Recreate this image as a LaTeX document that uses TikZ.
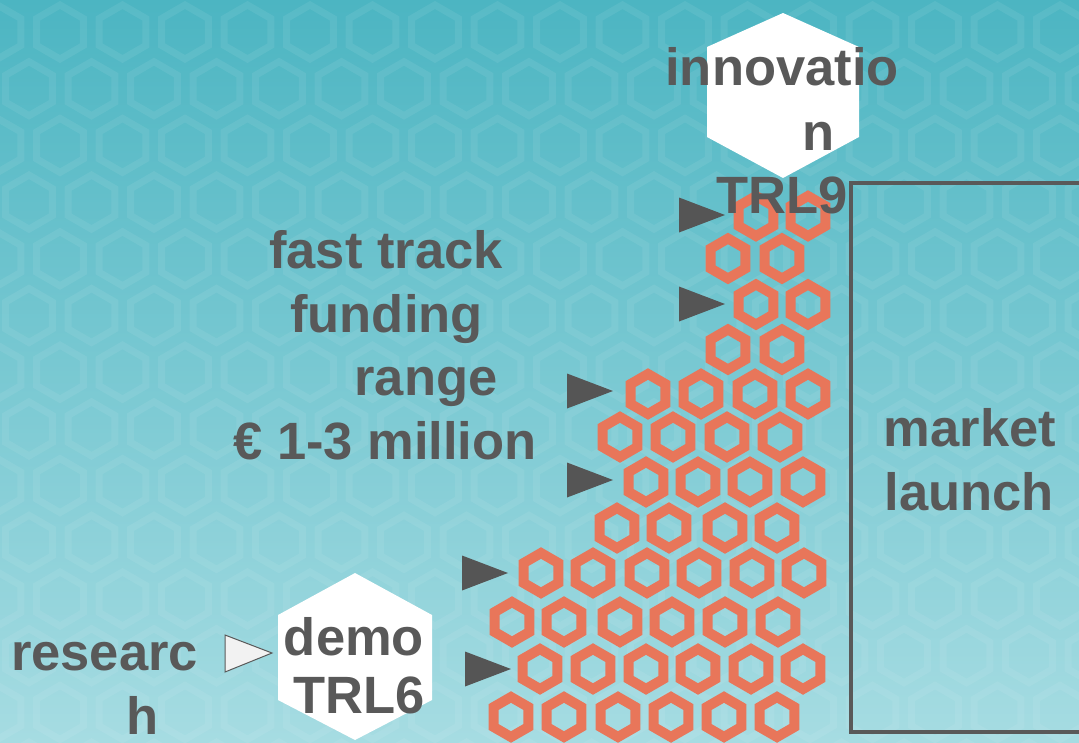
\documentclass[tikz,border=0pt]{standalone}
\usepackage{fontspec}
\setmainfont{Liberation Sans}
\definecolor{bgtop}{HTML}{4CB5C2}
\definecolor{bgbot}{HTML}{A6DCE2}
\definecolor{ringc}{HTML}{E8765A}
\definecolor{ink}{HTML}{595959}
\definecolor{arrowc}{HTML}{555555}
\definecolor{lightarrow}{HTML}{F2F2F2}
\tikzset{
  bghex/.style={draw=white, draw opacity=0.07, line width=7pt},
  ring/.style={draw=ringc, line width=10pt, line join=miter},
  marker/.style={fill=arrowc},
  openmarker/.style={fill=lightarrow, draw=ink, line width=1pt, line join=miter},
  whitehex/.style={fill=white},
  frame/.style={draw=ink, line width=3.5pt},
  lbl/.style={text=ink, font=\bfseries\fontsize{52.5}{64}\selectfont, inner sep=0pt, anchor=base}
}
\begin{document}
\begin{tikzpicture}[x=1pt,y=-1pt]
\useasboundingbox (0,0) rectangle (1079,742);
% background
\shade[top color=bgtop, bottom color=bgbot] (0,0) rectangle (1079,742);
\begin{scope}
\clip (0,0) rectangle (1079,742);
\foreach \r in {0,2,...,14}{
  \foreach \k in {0,...,18}{
    \pgfmathsetmacro\xx{-2.5+62.5*\k}
    \pgfmathsetmacro\yy{32+56.7*\r}
    \draw[bghex] (\xx,\yy) ++(0,-27) -- ++(23.38,13.5) -- ++(0,27) -- ++(-23.38,13.5) -- ++(-23.38,-13.5) -- ++(0,-27) -- cycle;
  }
}
\foreach \r in {1,3,...,13}{
  \foreach \k in {-1,...,17}{
    \pgfmathsetmacro\xx{29+62.5*\k}
    \pgfmathsetmacro\yy{32+56.7*\r}
    \draw[bghex] (\xx,\yy) ++(0,-27) -- ++(23.38,13.5) -- ++(0,27) -- ++(-23.38,13.5) -- ++(-23.38,-13.5) -- ++(0,-27) -- cycle;
  }
}
\end{scope}
% frame of market launch
\draw[frame] (1090,183) -- (851,183) -- (851,732) -- (1090,732);
% orange hexagon rings
\foreach \x/\y in {756/216,808/216,
  728/258.5,782/258.5,
  756/304.5,808/304.5,
  728/349.5,782/349.5,
  648/394,701/394,755/394,808/394,
  620/437,673/437,727/437,780/437,
  646/482,698/482,750/482,803/482,
  617/528,669/528,725/528,777/528,
  541/573,593/573,647/573,699/573,752/573,804/573,
  512/622,564/622,620/622,672/622,725/622,778/622,
  540/669,593/669,646/669,698/669,751/669,803/669,
  511/717,564/717,618/717,671/717,724/717,777/717}{
  \draw[ring] (\x,\y) ++(0,-20) -- ++(17.32,10) -- ++(0,20) -- ++(-17.32,10) -- ++(-17.32,-10) -- ++(0,-20) -- cycle;
}
% dark markers
\foreach \tx/\ty in {725/215,725/304,613/391,613/480,508/573,511/669}{
  \fill[marker] (\tx,\ty) -- ++(-46,-17.5) -- ++(0,35) -- cycle;
}
% white hexagons
\fill[whitehex] (355,573) -- (432,615) -- (432,700) -- (355,740) -- (278,700) -- (278,615) -- cycle;
\fill[whitehex] (783,13) -- (859,47) -- (859,137) -- (783,178) -- (707,137) -- (707,47) -- cycle;
% light marker between research and demo
\coordinate (lm) at (272,653);
\draw[openmarker] (lm) -- ++(-47,-18) -- ++(0,37) -- cycle;
% texts
\node[lbl] (ft1) at (386,268) {fast track};
\node[lbl] (ft2) at (386.5,332) {funding};
\node[lbl] (ft3) at (426,395) {range};
\node[lbl] (ft4) at (385,459) {€ 1-3 million};
\node[lbl] (ml1) at (970,446) {market};
\node[lbl] (ml2) at (969,510) {launch};
\node[lbl] (rs1) at (104.5,670) {researc};
\node[lbl] (rs2) at (142.5,734) {h};
\node[lbl] (dm1) at (354,655) {demo};
\node[lbl] (dm2) at (359.5,713) {TRL6};
\node[lbl] (in1) at (782,85) {innovatio};
\node[lbl] (in2) at (819,150) {n};
\node[lbl] (in3) at (782,213) {TRL9};
\end{tikzpicture}
\end{document}
